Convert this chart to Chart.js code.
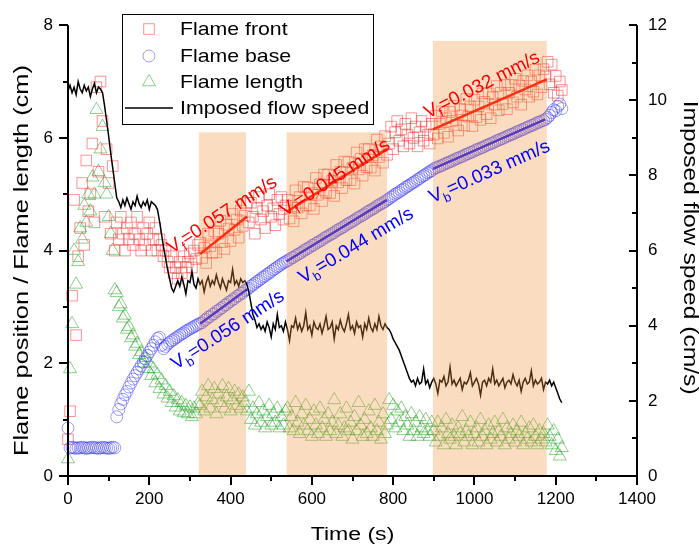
<!DOCTYPE html>
<html><head><meta charset="utf-8">
<script src="https://cdn.jsdelivr.net/npm/chart.js@4.4.1/dist/chart.umd.min.js"></script>
<style>html,body{margin:0;padding:0;background:#fff;}canvas{display:block;}</style>
</head><body>
<canvas id="c" width="699" height="551"></canvas>
<script>
const timeStep = 5;

// Flame front position (cm), t = 0..1215 s
const flameFront = [
0.65,1.15,3.2,4.9,2.5,3.9,4.4,5.2,4.1,5.6,4.7,5.0,5.9,4.5,6.9,5.4,7.0,6.3,4.6,5.8,5.2,4.3,5.5,4.0,
4.5,4.2,4.6,4.3,4.0,4.4,4.2,4.5,4.1,4.3,4.6,4.2,4.0,4.4,4.1,4.3,4.5,4.0,4.2,4.4,4.0,4.2,4.1,3.9,4.0,3.8,3.7,3.9,3.6,3.7,3.5,3.8,3.6,3.9,3.7,3.8,3.95,3.7,4.0,3.85,4.1,
4.14,3.87,4.05,3.78,4.3,4.08,3.96,4.34,3.97,4.3,4.53,4.15,4.03,4.46,4.39,4.17,4.65,4.37,4.55,4.23,4.71,4.44,4.62,4.85,
4.5,4.85,4.6,4.3,4.75,4.95,4.55,4.7,4.4,4.8,5.0,4.6,4.75,4.45,4.9,4.65,4.95,4.55,4.8,
4.9,4.57,4.79,4.52,5.07,4.76,4.95,4.66,5.13,4.8,5.12,4.8,5.02,4.74,5.29,4.99,5.18,4.88,5.35,5.03,
5.35,5.02,5.24,4.97,5.52,5.21,5.4,5.11,5.58,5.25,5.57,5.25,5.47,5.19,5.74,5.44,5.63,5.33,5.8,5.48,
5.8,5.47,5.69,5.42,5.97,5.66,5.85,5.56,6.03,5.7,
5.9,6.2,5.8,6.1,6.3,5.95,6.15,5.85,6.25,6.05,5.9,6.35,6.0,6.2,5.85,6.1,6.3,5.95,6.2,6.05,5.9,6.25,
6.06,6.39,5.99,6.25,6.47,6.09,6.35,6.02,6.46,6.3,
6.57,6.23,6.13,6.51,6.4,6.22,6.69,6.38,6.56,6.21,
6.68,6.37,6.56,6.32,6.79,6.64,6.42,6.79,6.35,6.72,
6.59,6.92,6.49,6.8,6.6,6.94,6.51,6.8,6.94,6.63,
7.05,6.73,6.93,6.59,7.01,6.86,7.11,6.73,7.0,6.82,
7.21,6.77,7.11,6.9,7.22,7.09,
7.35,6.95,7.3,6.8,7.1,6.75,7.0,6.85
];

// Flame base position (cm)
const flameBase = [
0.85,0.5,0.51,0.5,0.49,0.5,0.5,0.51,0.5,0.49,0.5,0.5,0.51,0.5,0.5,0.49,0.5,0.51,0.5,0.5,0.49,0.5,0.51,0.5,
1.05,1.18,1.28,1.36,1.44,1.5,1.58,1.65,1.72,1.78,1.84,1.9,1.96,2.02,2.08,2.14,2.2,2.26,2.32,2.38,2.44,2.46,2.32,2.26,2.3,2.34,2.37,2.4,2.42,2.45,2.47,2.5,2.52,2.54,2.57,2.59,2.61,2.63,2.65,2.67,2.69,
2.71,2.72,2.76,2.78,2.82,2.83,2.87,2.88,2.92,2.94,2.97,2.99,3.03,3.04,3.08,3.1,3.13,3.15,3.19,3.2,3.24,3.25,3.29,3.31,
3.33,3.37,3.39,3.42,3.45,3.47,3.5,3.53,3.55,3.58,3.6,3.63,3.66,3.68,3.71,3.73,3.76,3.78,3.8,
3.82,3.84,3.87,3.88,3.91,3.93,3.95,3.97,4.0,4.02,4.04,4.06,4.09,4.1,4.13,4.15,4.17,4.19,4.22,4.24,4.26,4.28,4.3,4.32,4.35,4.37,4.39,4.41,4.43,4.46,4.48,4.5,4.52,4.54,4.57,4.59,4.61,4.63,4.65,4.68,4.7,4.72,4.74,4.76,4.79,4.81,4.83,4.85,4.87,4.9,
4.92,4.95,4.97,5.0,5.02,5.04,5.07,5.09,5.12,5.14,5.16,5.19,5.21,5.23,5.26,5.28,5.31,5.33,5.35,5.38,5.4,5.42,
5.45,5.47,5.48,5.5,5.51,5.53,5.55,5.56,5.58,5.59,5.61,5.63,5.64,5.66,5.67,5.69,5.71,5.72,5.74,5.75,5.77,5.79,5.8,5.82,5.83,5.85,5.87,5.88,5.9,5.91,5.93,5.95,5.96,5.98,5.99,6.01,6.03,6.04,6.06,6.07,6.09,6.11,6.12,6.14,6.15,6.17,6.19,6.2,6.22,6.23,6.25,6.27,6.28,6.3,6.31,6.33,
6.36,6.4,6.45,6.5,6.48,6.56,6.6,6.52
];

// Flame length (cm)
const flameLength = [
0.3,1.9,2.7,4.0,3.4,3.8,4.4,4.2,4.8,4.5,5.0,4.7,5.3,5.0,6.5,5.4,5.8,6.2,5.2,5.0,4.6,4.3,4.0,3.3,
3.25,3.0,3.05,2.8,2.85,2.6,2.65,2.45,2.5,2.3,2.35,2.15,2.2,2.0,2.1,1.9,2.0,1.78,1.9,1.65,1.8,1.55,1.7,1.45,1.6,1.38,1.5,1.3,1.42,1.22,1.35,1.15,1.3,1.12,1.25,1.1,1.22,1.05,1.2,1.1,1.28,
1.25,1.5,1.15,1.4,1.6,1.2,1.35,1.55,1.1,1.45,1.3,1.6,1.2,1.4,1.55,1.15,1.35,1.5,1.25,1.45,1.2,1.4,1.3,1.15,
1.5,1.0,1.2,0.9,1.1,1.3,0.95,1.15,0.85,1.05,1.25,0.9,1.1,0.95,1.2,0.85,1.05,0.9,1.15,
1.2,0.85,1.05,0.8,1.3,0.95,0.75,1.1,0.9,1.25,0.8,1.0,0.7,1.15,0.9,0.75,1.2,0.85,1.0,0.7,1.1,0.8,0.95,1.35,0.75,0.9,1.1,0.7,0.85,1.2,0.8,0.95,0.65,1.05,0.8,1.3,0.9,0.7,1.0,0.75,1.15,0.85,0.7,1.25,0.8,0.95,0.65,1.1,0.75,0.9,
1.35,1.0,1.25,0.85,1.15,0.95,1.2,0.8,1.05,0.9,0.7,1.1,0.8,0.95,0.7,1.05,0.85,0.75,1.0,0.8,0.7,0.95,
0.8,0.6,0.95,0.7,0.85,0.55,1.0,0.75,0.65,0.9,0.7,0.55,0.85,0.75,1.05,0.6,0.8,0.7,0.95,0.55,0.75,0.85,0.6,1.0,0.7,0.8,0.55,0.9,0.65,0.75,0.95,0.6,0.8,0.7,1.0,0.55,0.85,0.65,0.75,0.9,0.6,0.8,0.7,0.95,0.55,0.75,0.65,0.85,0.6,0.9,0.7,0.55,0.8,0.65,0.75,0.6,
0.9,0.7,0.55,0.8,0.45,0.65,0.35,0.5
];

// Imposed flow speed (cm/s), right axis
const flowSpeed = [
10.25,10.4,10.2,10.35,10.15,10.5,10.3,10.2,10.4,10.25,10.35,10.1,10.3,10.45,10.2,10.35,10.3,
10.2,9.85,9.45,9.05,8.6,8.2,7.8,7.4,
7.3,7.15,7.35,7.2,7.4,7.25,7.1,7.3,7.2,7.45,7.25,7.15,7.3,7.2,7.35,7.1,7.3,7.25,7.2,
7.1,6.8,6.45,6.1,5.8,5.5,5.25,5.0,4.9,5.05,
5.2,5.05,5.3,5.1,4.85,5.2,5.15,5.45,5.1,5.0,5.25,5.1,5.2,4.9,5.15,5.3,5.05,5.2,5.1,5.35,5.15,5.0,5.25,5.1,4.95,5.2,5.15,5.5,5.1,5.2,5.05,5.25,5.15,5.2,
5.1,4.9,4.6,4.3,4.15,3.95,4.05,3.9,
4.0,3.85,4.1,3.95,3.7,4.05,3.9,4.3,3.95,4.0,3.85,4.1,3.9,3.6,4.0,3.95,4.2,3.9,4.05,3.85,4.0,4.35,3.9,4.0,3.75,4.1,3.95,3.9,4.05,3.8,4.0,4.25,3.9,3.95,4.1,3.65,4.0,3.9,4.15,3.95,3.85,4.05,4.3,3.9,4.0,3.8,4.1,3.95,4.0,3.7,4.05,3.9,4.2,3.95,3.85,4.05,3.9,4.25,4.0,3.9,4.05,
3.95,3.9,3.8,3.65,3.55,3.45,3.35,3.2,3.05,2.9,2.75,2.6,2.5,
2.55,2.4,2.6,2.45,2.5,2.85,2.45,2.55,2.35,2.5,2.6,2.45,2.2,2.55,2.5,2.65,2.4,2.5,2.9,2.45,2.55,2.4,2.5,2.6,2.3,2.5,2.45,2.55,2.75,2.4,2.5,2.6,2.45,2.15,2.5,2.55,2.4,2.6,2.5,2.85,2.45,2.55,2.4,2.5,2.6,2.35,2.5,2.55,2.45,2.7,2.5,2.4,2.55,2.25,2.5,2.6,2.45,2.5,2.8,2.4,2.55,2.45,2.5,2.6,2.3,2.5,2.45,2.55,2.4,2.5,
2.35,2.2,2.05,1.95
];

// Linear fits (start/end time in s, start/end value in cm)
const fitFrontT = [[325,440],[538,785],[898,1178]];
const fitFrontV = [[3.94,4.6],[4.69,5.8],[6.15,7.04]];
const fitBaseT  = [[325,440],[538,785],[898,1174]];
const fitBaseV  = [[2.7,3.31],[3.81,4.9],[5.45,6.33]];
const frontRates = ['0.057','0.045','0.032'];
const baseRates  = ['0.056','0.044','0.033'];

// Highlighted time windows (s) and their heights (cm)
const bandStart = [322,538,898];
const bandEnd   = [438,785,1178];
const bandTop   = [6.1,6.1,7.72];

// tick labels
const xTicks = [0,200,400,600,800,1000,1200,1400];
const yTicks = [0,2,4,6,8];
const y2Ticks = [0,2,4,6,8,10,12];

const FONT = '"Liberation Sans", Arial, Helvetica, sans-serif';
Chart.defaults.font.family = FONT;

const pts = arr => arr.map((v,i)=>({x:i*timeStep, y:v}));
const seg = (T,V,k) => [{x:T[k][0],y:V[k][0]},{x:T[k][1],y:V[k][1]}];

const RED = 'rgba(255,40,40,0.5)', BLUE = 'rgba(40,40,255,0.45)', GREEN = 'rgba(0,150,0,0.45)';

const datasets = [
 {label:'Flame front', data:pts(flameFront), pointStyle:'rect', pointRadius:7.5, borderColor:RED, backgroundColor:'rgba(0,0,0,0)', pointBorderWidth:1, yAxisID:'y', order:3, clip:false},
 {label:'Flame base', data:pts(flameBase), pointStyle:'circle', pointRadius:6, borderColor:BLUE, backgroundColor:'rgba(0,0,0,0)', pointBorderWidth:1, yAxisID:'y', order:2, clip:false},
 {label:'Flame length', data:pts(flameLength), pointStyle:'triangle', pointRadius:7.5, borderColor:GREEN, backgroundColor:'rgba(0,0,0,0)', pointBorderWidth:1, yAxisID:'y', order:4, clip:false},
 {label:'Imposed flow speed', type:'line', data:pts(flowSpeed), borderColor:'#000', borderWidth:1.5, pointRadius:0, tension:0, yAxisID:'y2', order:1}
];
for (let k=0;k<3;k++){
 datasets.push({label:'fitF'+k, type:'line', data:seg(fitFrontT,fitFrontV,k), borderColor:'#ff0000', borderWidth:2.5, pointRadius:0, yAxisID:'y', order:0});
 datasets.push({label:'fitB'+k, type:'line', data:seg(fitBaseT,fitBaseV,k), borderColor:'#1010ff', borderWidth:2.5, pointRadius:0, yAxisID:'y', order:0});
}

// rate labels: anchor (time s, cm), rotation (deg)
const rateLabels = [
 {t:256, v:3.94, a:33, sub:'f', val:frontRates[0], c:'#ff0000'},
 {t:534, v:4.6,  a:33, sub:'f', val:frontRates[1], c:'#ff0000'},
 {t:886, v:6.34, a:27, sub:'f', val:frontRates[2], c:'#ff0000'},
 {t:266, v:1.88, a:33, sub:'b', val:baseRates[0], c:'#0000ff'},
 {t:578, v:3.41, a:31, sub:'b', val:baseRates[1], c:'#0000ff'},
 {t:896, v:4.84, a:24, sub:'b', val:baseRates[2], c:'#0000ff'}
];

function drawRate(ctx,x,y,ang,sub,val,color){
 ctx.save(); ctx.translate(x,y); ctx.rotate(-ang*Math.PI/180);
 ctx.fillStyle=color; ctx.textAlign='left'; ctx.textBaseline='alphabetic';
 ctx.font='19px '+FONT; ctx.fillText('V',0,0); let w=ctx.measureText('V').width;
 ctx.font='13px '+FONT; ctx.fillText(sub,w,5); w+=ctx.measureText(sub).width;
 ctx.font='19px '+FONT; ctx.fillText('='+val+' mm/s',w,0);
 ctx.restore();
}

const overlay = {
 id:'overlay',
 afterDatasetsDraw(chart){
  const ctx=chart.ctx, xs=chart.scales.x, ys=chart.scales.y;
  ctx.save();
  ctx.fillStyle='rgba(240,150,60,0.32)';
  for(let i=0;i<bandStart.length;i++){
   const x0=xs.getPixelForValue(bandStart[i]), x1=xs.getPixelForValue(bandEnd[i]);
   const yt=ys.getPixelForValue(bandTop[i]), yb=ys.getPixelForValue(0);
   ctx.fillRect(x0,yt,x1-x0,yb-yt);
  }
  ctx.restore();
  rateLabels.forEach(L=>drawRate(ctx,xs.getPixelForValue(L.t),ys.getPixelForValue(L.v),L.a,L.sub,L.val,L.c));
 },
 afterDraw(chart){
  const ctx=chart.ctx, xs=chart.scales.x, ys=chart.scales.y, y2=chart.scales.y2;
  const ca=chart.chartArea;
  ctx.save(); ctx.fillStyle='#000';
  ctx.fillRect(ca.left-1, ca.top, 2, ca.bottom-ca.top+1);
  ctx.fillRect(ca.right-1, ca.top, 2, ca.bottom-ca.top+1);
  ctx.fillRect(ca.left-1, ca.bottom-1, ca.right-ca.left+2, 2);
  for(let v=0; v<=1400; v+=100){
   const p=Math.round(xs.getPixelForValue(v)); const L=(v%200===0)?9:5;
   ctx.fillRect(p-1, ca.bottom, 2, L);
  }
  for(let v=0; v<=8; v+=1){
   const p=Math.round(ys.getPixelForValue(v)); const L=(v%2===0)?9:5;
   ctx.fillRect(ca.left-L, p-1, L, 2);
  }
  for(let v=0; v<=12; v+=1){
   const p=Math.round(y2.getPixelForValue(v)); const L=(v%2===0)?8:5;
   ctx.fillRect(ca.right-L, p-1, L, 2);
  }
  const title=(text,x,y,size,stretch,rot)=>{
   ctx.save(); ctx.translate(x,y); ctx.rotate(rot); ctx.scale(stretch,1);
   ctx.font=size+'px '+FONT; ctx.fillStyle='#000'; ctx.textAlign='center'; ctx.textBaseline='middle';
   ctx.fillText(text,0,0); ctx.restore();
  };
  const midY=(ca.top+ca.bottom)/2;
  title(xs.options.title.text,(ca.left+ca.right)/2,535,18,1.28,0);
  title(ys.options.title.text,22,midY+10,20,1.27,-Math.PI/2);
  title(y2.options.title.text,690,midY-3,20,1.23,Math.PI/2);
  const bx=122,by=14,bw=251,bh=110;
  ctx.fillStyle='#fff'; ctx.fillRect(bx,by,bw,bh);
  ctx.strokeStyle='#000'; ctx.lineWidth=1; ctx.strokeRect(bx+0.5,by+0.5,bw,bh);
  const rows=[29,56,82,108], sx=149, tx=180;
  const ds=chart.data.datasets;
  ctx.lineWidth=1;
  ctx.strokeStyle=RED; ctx.strokeRect(sx-5.3,rows[0]-5.3,10.6,10.6);
  ctx.strokeStyle=BLUE; ctx.beginPath(); ctx.arc(sx,rows[1],6,0,Math.PI*2); ctx.stroke();
  ctx.strokeStyle=GREEN; ctx.beginPath();
  ctx.moveTo(sx,rows[2]-7.5); ctx.lineTo(sx+6.5,rows[2]+3.75); ctx.lineTo(sx-6.5,rows[2]+3.75); ctx.closePath(); ctx.stroke();
  ctx.fillStyle='#000'; ctx.fillRect(125,rows[3]-0.75,48,1.5);
  for(let i=0;i<4;i++){
   ctx.save(); ctx.translate(tx,rows[i]+1); ctx.scale(1.12,1);
   ctx.font='19px '+FONT; ctx.fillStyle='#000'; ctx.textAlign='left'; ctx.textBaseline='middle';
   ctx.fillText(ds[i].label,0,0); ctx.restore();
  }
  ctx.restore();
 }
};

new Chart(document.getElementById('c'), {
 type:'scatter',
 data:{datasets},
 options:{
  responsive:false, animation:false, events:[],
  layout:{padding:{top:17,left:0,right:0,bottom:0}},
  plugins:{legend:{display:false}, tooltip:{enabled:false}},
  scales:{
   x:{type:'linear', min:0, max:1400, afterFit:s=>{s.height=75;},
      afterBuildTicks:s=>{s.ticks=xTicks.map(v=>({value:v}));},
      grid:{display:false, drawTicks:false}, border:{display:false},
      ticks:{font:{size:17}, color:'#000', padding:13, maxRotation:0, autoSkip:false, callback:v=>String(v)},
      title:{display:false, text:'Time (s)'}},
   y:{type:'linear', position:'left', min:0, max:8, afterFit:s=>{s.width=68;},
      afterBuildTicks:s=>{s.ticks=yTicks.map(v=>({value:v}));},
      grid:{display:false, drawTicks:false}, border:{display:false},
      ticks:{font:{size:17}, color:'#000', padding:15, callback:v=>String(v)},
      title:{display:false, text:'Flame position / Flame length (cm)'}},
   y2:{type:'linear', position:'right', min:0, max:12, afterFit:s=>{s.width=62;},
      afterBuildTicks:s=>{s.ticks=y2Ticks.map(v=>({value:v}));},
      grid:{display:false, drawTicks:false}, border:{display:false},
      ticks:{font:{size:17}, color:'#000', padding:11, callback:v=>String(v)},
      title:{display:false, text:'Imposed flow speed (cm/s)'}}
  }
 },
 plugins:[overlay]
});
</script>
</body></html>
